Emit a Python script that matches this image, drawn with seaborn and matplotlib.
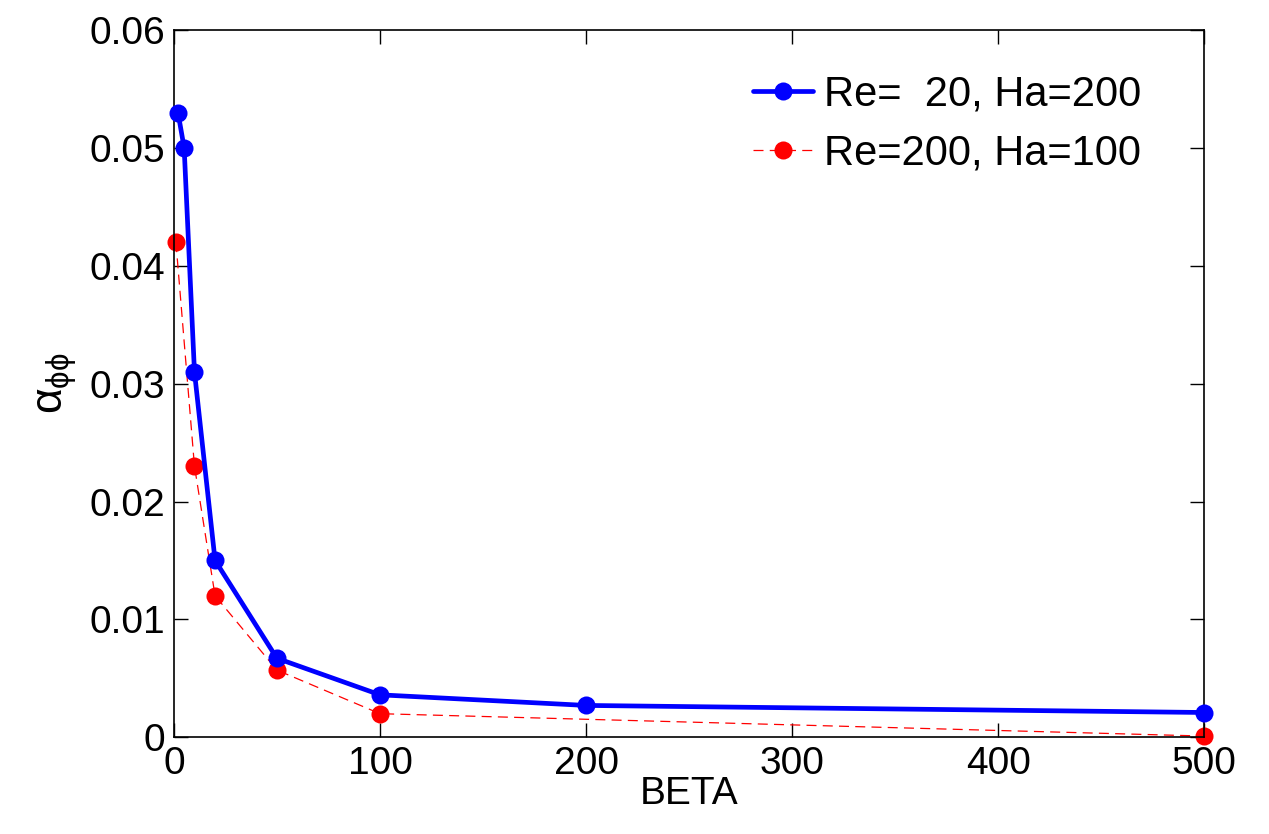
import numpy as np
import pandas as pd
import matplotlib
matplotlib.use("Agg")
import matplotlib.pyplot as plt
import seaborn as sns

# values
beta_blue = [2, 5, 10, 20, 50, 100, 200, 500]
alpha_blue = [0.053, 0.050, 0.031, 0.015, 0.0067, 0.0036, 0.0027, 0.0021]
beta_red = [1, 10, 20, 50, 100, 500]
alpha_red = [0.042, 0.023, 0.012, 0.0057, 0.0020, 0.0001]
x_ticks = [0, 100, 200, 300, 400, 500]
y_ticks = [0, 0.01, 0.02, 0.03, 0.04, 0.05, 0.06]

sns.set_style("white", {"text.color": "black", "axes.labelcolor": "black",
                        "xtick.color": "black", "ytick.color": "black"})
plt.rcParams['font.family'] = ['Liberation Sans', 'DejaVu Sans']
plt.rcParams['mathtext.fontset'] = 'custom'
plt.rcParams['mathtext.rm'] = 'Liberation Sans'
plt.rcParams['mathtext.it'] = 'Liberation Sans'

fig = plt.figure(figsize=(12.69, 8.34), dpi=100)
ax = fig.add_axes([0.137, 0.116, 0.812, 0.848])

blue = pd.DataFrame({"beta": beta_blue, "alpha": alpha_blue})
red = pd.DataFrame({"beta": beta_red, "alpha": alpha_red})

sns.lineplot(data=blue, x="beta", y="alpha", ax=ax, color="#0000ff", lw=3.4,
             marker="o", markersize=13, markeredgewidth=0,
             label="Re=  20, Ha=200", clip_on=False, zorder=3)
sns.lineplot(data=red, x="beta", y="alpha", ax=ax, color="#ff0000", lw=0.9,
             dashes=(8, 5), marker="o", markersize=13, markeredgewidth=0,
             label="Re=200, Ha=100", clip_on=False, zorder=2)

ax.set_xlim(0, 500)
ax.set_ylim(0, 0.06)
ax.set_xticks(x_ticks)
ax.set_yticks(y_ticks)
ax.set_xticklabels([str(t) for t in x_ticks])
ax.set_yticklabels(["0", "0.01", "0.02", "0.03", "0.04", "0.05", "0.06"])
ax.tick_params(direction="in", length=10, width=1, labelsize=28,
               top=True, right=True, bottom=True, left=True, color="black",
               labelcolor="black")
ax.tick_params(axis="x", pad=6)
ax.tick_params(axis="y", pad=6)
for s in ax.spines.values():
    s.set_color("black")
    s.set_linewidth(1.2)

ax.set_xlabel("BETA", fontsize=28, labelpad=-4, color="black")
ax.set_ylabel(r"$\alpha_{\phi\phi}$", fontsize=32, labelpad=8, color="black")

leg = ax.legend(loc="upper right", frameon=False, fontsize=30,
                handlelength=1.45, handletextpad=0.25, labelspacing=0.45,
                bbox_to_anchor=(0.975, 0.99))
for t in leg.get_texts():
    t.set_color("black")

fig.savefig("out.png", dpi=100)
